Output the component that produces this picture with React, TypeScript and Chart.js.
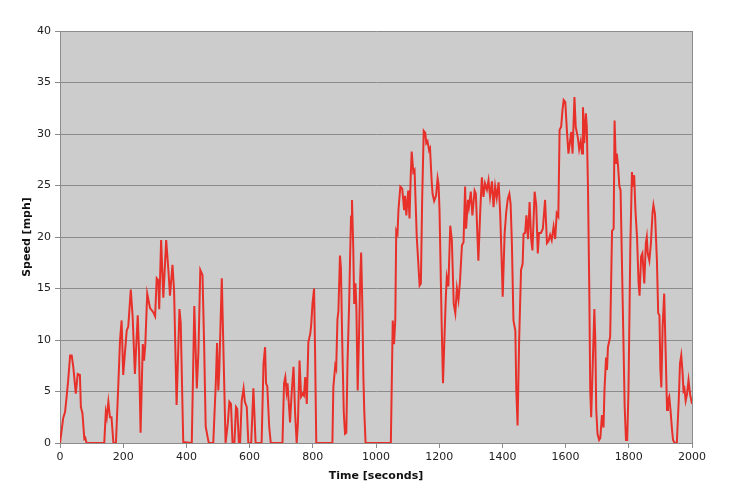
import React, { useEffect, useRef } from "react";
import { Chart, registerables } from "chart.js";

Chart.register(...registerables);

const timeSec = [0,10,16,21,26,32,37,42,50,56,63,66,71,77,80,84,140,145,148,153,158,163,169,177,185,190,195,200,211,216,224,230,237,246,250,255,262,266,270,276,285,295,301,306,311,314,320,327,336,343,348,356,361,369,378,382,390,417,425,433,438,444,451,456,461,467,471,485,493,497,501,504,512,517,524,531,536,541,546,552,557,561,566,570,575,581,585,591,596,605,612,619,638,644,649,652,656,662,667,704,709,713,717,720,728,733,739,744,749,753,758,763,768,772,776,781,786,792,795,799,804,807,811,862,865,871,874,878,881,886,889,893,898,902,906,910,915,918,921,924,928,931,935,938,942,946,950,953,957,960,963,967,1047,1053,1057,1061,1064,1068,1071,1077,1083,1089,1092,1096,1102,1106,1110,1113,1118,1122,1129,1138,1142,1146,1151,1156,1159,1163,1168,1171,1176,1179,1184,1190,1195,1198,1201,1208,1212,1216,1221,1224,1229,1235,1240,1246,1251,1256,1261,1266,1272,1277,1282,1285,1291,1294,1300,1305,1312,1316,1324,1330,1335,1340,1345,1351,1356,1361,1367,1372,1377,1382,1388,1393,1398,1401,1407,1412,1417,1422,1426,1430,1435,1441,1444,1448,1453,1459,1464,1467,1472,1476,1481,1486,1491,1495,1502,1507,1512,1516,1522,1528,1535,1541,1546,1551,1556,1562,1567,1572,1577,1581,1586,1590,1594,1599,1604,1609,1618,1622,1628,1632,1639,1643,1648,1652,1655,1659,1664,1667,1671,1675,1678,1681,1685,1691,1694,1697,1701,1706,1710,1715,1720,1723,1728,1731,1734,1741,1747,1752,1755,1759,1762,1766,1770,1774,1780,1787,1791,1795,1799,1805,1810,1813,1817,1821,1826,1831,1834,1839,1843,1849,1854,1857,1860,1865,1870,1875,1878,1883,1889,1893,1897,1900,1903,1907,1912,1918,1921,1924,1928,1932,1937,1940,1945,1952,1958,1962,1966,1970,1973,1976,1980,1984,1989,1994,2000];

const speedMph = [0,2.4,3.0,4.5,6.1,8.5,8.5,7.4,4.8,6.7,6.6,3.5,2.9,0.4,0.5,0,0,3.0,2.5,4.0,2.5,2.5,0,0,6,10,11.9,6.6,10.9,11.3,14.9,12.2,6.7,12.4,9,1.0,9.6,8.0,9.6,14.5,13.1,12.7,12.3,16.0,15.8,13.0,19.7,14.1,19.7,16.8,14.3,17.3,14.8,3.7,13.0,11.7,0.1,0,13.3,5.3,8.8,16.8,16.3,9.7,1.6,0.6,0,0,5.8,9.7,5.1,7,16.0,9.3,0,1.9,4.0,3.8,0,0,3.5,3.3,0,0,4.1,5.3,4.0,3.5,0,0,5.3,0,0,7.7,9.3,5.8,5.5,1.6,0,0,5.8,6.4,5.0,5.8,2.0,4.8,7.4,2.9,0,2.0,8.0,4.5,4.8,4.6,6.4,3.8,9.8,10.6,11.5,13.5,15.0,9.3,0,0,5.4,7.5,7.2,12,12.8,18.2,17,10,3,0.9,1.0,8,13.5,18,22,23.6,19,13.5,15.5,13,5.1,10,16,18.5,13,6.5,3,0,0,11.9,9.6,11.9,20.6,20.3,22.6,24.9,24.7,22.6,24,22.1,24.5,21.8,26,28.3,26.3,26.5,20,15.3,15.5,23.5,30.3,30.1,29.1,29.3,28.4,28.6,25.5,24.2,23.5,24,25.7,25.1,22.6,11.3,5.8,9.6,14.2,16.1,15.2,21.1,19.7,13.5,12.6,15.0,13.9,15.8,19.2,19.5,24.9,20.8,23.6,22.9,24.4,22.1,24.5,24.2,17.7,22.6,25.8,23.9,25.2,24.6,25.5,23.9,25.4,22.9,24.9,23.8,25.3,22.3,17.4,14.2,20.3,22.4,23.7,24.2,23.2,19.4,11.9,10.9,5.1,1.7,10.0,16.8,17.4,20.3,20.4,22.1,19.8,23.4,19.8,18.7,24.4,23.1,18.4,20.4,20.4,20.8,23.6,19.4,19.6,20.2,19.7,21,19.8,22.3,22,30.4,30.7,32.3,33.3,33.1,30.4,28.1,30.2,28.1,33.6,30.7,29.6,28.5,29.3,28.1,32.6,29.1,32.0,30.8,24.5,14.8,5.1,2.5,6.7,13.0,10,3.2,0.9,0.3,0.5,2.7,1.5,5.1,8.3,7.1,9.3,10.3,20.6,20.8,31.3,27.1,28.1,26.9,25.0,24.5,14.8,3.5,0.3,0.3,5.1,19.4,26.3,24.9,26.0,22.6,20.0,15.5,14.3,18.1,18.4,15.5,19.4,20.0,18.4,17.7,19.4,22.3,23.1,22.2,17.7,12.6,12.4,7.1,5.4,11.3,14.5,7.1,3.2,4.1,4.5,3.2,1.2,0.3,0,0,4.1,7.7,8.5,6.9,5.1,5.3,4.1,4.7,6.1,4.7,3.8];

const xTitle = "Time [seconds]";
const yTitle = "Speed [mph]";

const plotBg = {
  id: "plotBg",
  beforeDraw(chart: any) {
    const { ctx, chartArea } = chart;
    ctx.save();
    ctx.fillStyle = "#cccccc";
    ctx.fillRect(chartArea.left, chartArea.top, chartArea.right - chartArea.left, chartArea.bottom - chartArea.top);
    ctx.restore();
  },
  afterDatasetsDraw(chart: any) {
    const { ctx, chartArea } = chart;
    ctx.save();
    ctx.strokeStyle = "#8c8c8c";
    ctx.lineWidth = 1;
    ctx.beginPath();
    ctx.moveTo(chartArea.right + 0.5, chartArea.top);
    ctx.lineTo(chartArea.right + 0.5, chartArea.bottom);
    ctx.stroke();
    ctx.restore();
  },
};

export default function App() {
  const ref = useRef<HTMLCanvasElement | null>(null);
  useEffect(() => {
    if (!ref.current) return;
    const data = timeSec.map((t, i) => ({ x: t, y: speedMph[i] }));
    const font = { family: "'DejaVu Sans', Verdana, sans-serif", size: 11 };
    const chart = new Chart(ref.current, {
      type: "line",
      data: {
        datasets: [
          {
            data,
            borderColor: "#e8302a",
            borderWidth: 2,
            pointRadius: 0,
            tension: 0,
            fill: false,
          },
        ],
      },
      options: {
        animation: false,
        responsive: false,
        devicePixelRatio: 1,
        layout: { padding: { top: 31, right: 58, bottom: 0, left: 0 } },
        plugins: { legend: { display: false }, tooltip: { enabled: false } },
        scales: {
          x: {
            type: "linear",
            min: 0,
            max: 2000,
            afterFit: (s: any) => { s.height = 54; },
            ticks: { stepSize: 200, color: "#222", font, padding: 3, maxRotation: 0, callback: (v: any) => String(v) },
            grid: { display: true, drawOnChartArea: false, drawTicks: true, tickLength: 5, color: "#8c8c8c" },
            border: { display: true, color: "#8c8c8c" },
            title: { display: true, text: xTitle, color: "#111", font: { ...font, weight: "bold" }, padding: { top: 0, bottom: 14 } },
          },
          y: {
            min: 0,
            max: 40,
            afterFit: (s: any) => { s.width = 60; },
            ticks: { stepSize: 5, color: "#222", font, padding: 4, callback: (v: any) => String(v) },
            grid: { color: "#8c8c8c", tickLength: 5, drawTicks: true },
            border: { display: true, color: "#8c8c8c" },
            title: { display: true, text: yTitle, color: "#111", font: { ...font, weight: "bold" }, padding: { top: 21, bottom: 0 } },
          },
        },
      },
      plugins: [plotBg],
    });
    return () => chart.destroy();
  }, []);
  return (
    <div style={{ position: "fixed", left: 0, top: 0, width: 750, height: 497, background: "#fff" }}>
      <canvas ref={ref} width={750} height={497} style={{ width: 750, height: 497, display: "block" }} />
    </div>
  );
}
